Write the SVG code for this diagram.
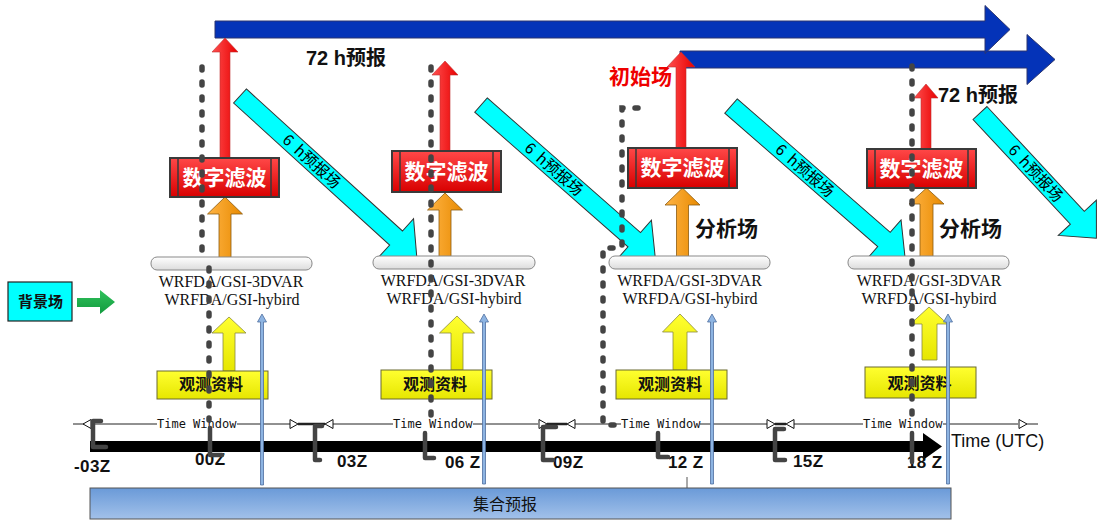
<svg xmlns="http://www.w3.org/2000/svg" width="1100" height="524" viewBox="0 0 1100 524">
<style>
.zh{font-family:"Noto Sans CJK SC","Liberation Sans",sans-serif}
.lat{font-family:"Liberation Sans","Noto Sans CJK SC",sans-serif}
.wrf{font-family:"Liberation Serif",serif;font-size:16px;fill:#111;text-anchor:middle}
.tw{font-family:"DejaVu Sans Mono","Liberation Mono",monospace;font-size:12px;fill:#111}
.zl{font-family:"Liberation Sans",sans-serif;font-size:17px;font-weight:bold;fill:#111;letter-spacing:0.4px}
.dash{fill:none;stroke:#444;stroke-width:5.5;stroke-linecap:round;stroke-dasharray:3 12}
.brk{fill:none;stroke:#444;stroke-width:4.5;stroke-linecap:round;stroke-linejoin:round}
.cyan{fill:#00FFFF;stroke:#333;stroke-width:1}
.red{fill:url(#redA);stroke:#c03030;stroke-width:0.6}
.org{fill:url(#orgG);stroke:#8a5a10;stroke-width:0.8}
.yel{fill:url(#yelG);stroke:#8a8a40;stroke-width:0.8}
.thin{fill:#8DB4E2;stroke:#4F6FA0;stroke-width:0.8}
.box{fill:url(#redG);stroke:#3a3a3a;stroke-width:2}
.bar{fill:url(#barG);stroke:#888;stroke-width:1}
.ybox{fill:url(#yelG);stroke:#6a6a30;stroke-width:1}
.dig{font-family:"Noto Sans CJK SC",sans-serif;font-size:21px;font-weight:bold;fill:#fff;text-anchor:middle}
.obs{font-family:"Noto Sans CJK SC",sans-serif;font-size:16px;font-weight:bold;fill:#111;text-anchor:middle}
.six{font-family:"Noto Sans CJK SC","Liberation Sans",sans-serif;font-size:15.5px;fill:#000;text-anchor:middle}
.tri{fill:#fff;stroke:#111;stroke-width:1}
</style>
<defs>
<linearGradient id="redG" x1="0" y1="0" x2="0" y2="1"><stop offset="0" stop-color="#FF4848"/><stop offset="1" stop-color="#D80000"/></linearGradient>
<linearGradient id="redA" x1="0" y1="0" x2="1" y2="0"><stop offset="0" stop-color="#FF5050"/><stop offset="1" stop-color="#E80000"/></linearGradient>
<linearGradient id="orgG" x1="0" y1="0" x2="1" y2="0"><stop offset="0" stop-color="#FFB445"/><stop offset="1" stop-color="#E88A00"/></linearGradient>
<linearGradient id="yelG" x1="0" y1="0" x2="0" y2="1"><stop offset="0" stop-color="#FFFF30"/><stop offset="1" stop-color="#E6E600"/></linearGradient>
<linearGradient id="barG" x1="0" y1="0" x2="0" y2="1"><stop offset="0" stop-color="#FFFFFF"/><stop offset="1" stop-color="#DCDCDC"/></linearGradient>
<linearGradient id="bluG" x1="0" y1="0" x2="0" y2="1"><stop offset="0" stop-color="#6A9AD8"/><stop offset="1" stop-color="#A2C1EA"/></linearGradient>
<linearGradient id="grnG" x1="0" y1="0" x2="0" y2="1"><stop offset="0" stop-color="#30C25C"/><stop offset="1" stop-color="#129A3E"/></linearGradient>
</defs>
<rect width="1100" height="524" fill="#fff"/>

<g id="ensemble">
<rect x="90" y="488" width="861" height="31" fill="url(#bluG)" stroke="#555" stroke-width="1"/>
<text class="zh" x="473" y="510" font-size="16" fill="#111">集合预报</text>
</g>

<g id="background">
<rect x="8" y="282" width="64" height="39" fill="#00FFFF" stroke="#222" stroke-width="1.2"/>
<text class="zh" x="40.5" y="307" font-size="15" font-weight="bold" text-anchor="middle" fill="#111">背景场</text>
<path d="M77,298 H100 V290 L115,302 L100,314 V307 H77 Z" fill="url(#grnG)"/>
</g>

<g id="forecast72">
<path d="M680,51 H1027 V34.5 L1055,59.5 L1027,84.5 V68 H680 Z" fill="#0433B8" stroke="#2a3570" stroke-width="1"/>
<path d="M215,21 H985 V5.5 L1010,29.5 L985,53.5 V38 H215 Z" fill="#0433B8" stroke="#2a3570" stroke-width="1"/>
<text class="lat" x="306" y="65" font-size="20" font-weight="bold" fill="#111">72 h预报</text>
<text class="lat" x="938" y="102" font-size="20" font-weight="bold" fill="#111">72 h预报</text>
</g>

<g id="labels">
<text class="zh" x="609" y="84" font-size="21" font-weight="bold" fill="#EE0000">初始场</text>
<text class="zh" x="695" y="236" font-size="21" font-weight="bold" fill="#111">分析场</text>
<text class="zh" x="939" y="236" font-size="21" font-weight="bold" fill="#111">分析场</text>
</g>

<g id="connectors">
<path class="red" d="M220,158 V52 H212 L225,38 L238,52 H230 V158 Z"/>
<path class="red" d="M440,151 V75 H432 L445,61 L458,75 H450 V151 Z"/>
<path class="red" d="M676,148 V67 H667 L681,52 L695,67 H686 V148 Z"/>
<path class="red" d="M921,149 V98 H914 L926,84 L938,98 H931 V149 Z"/>
<path class="org" d="M219,258 V214 H207.5 L225,197 L242.5,214 H231 V258 Z"/>
<path class="org" d="M439,257 V210 H427.5 L445,193 L462.5,210 H451 V257 Z"/>
<path class="org" d="M676.5,257 V205 H665 L682.5,188 L700,205 H688.5 V257 Z"/>
<path class="org" d="M920,257 V204 H909 L926.5,188 L944,204 H933 V257 Z"/>
<path class="yel" d="M223,371 V333 H212 L229,317 L246,333 H235 V371 Z"/>
<path class="yel" d="M451,370 V333 H439.5 L457,316 L474.5,333 H463 V370 Z"/>
<path class="yel" d="M673,370 V332 H662.5 L680,314 L697.5,332 H687 V370 Z"/>
<path class="yel" d="M922,360 V324 H910.5 L929,307 L947.5,324 H937 V360 Z"/>
<g transform="translate(240,96) rotate(42.3)"><path class="cyan" d="M0,-9.5 H211 V-26 L239,0 L211,26 V9.5 H0 Z"/><text class="six" x="97" y="5.5" xml:space="preserve">6  h预报场</text></g>
<g transform="translate(481,105) rotate(41.3)"><path class="cyan" d="M0,-9.5 H204 V-26 L232,0 L204,26 V9.5 H0 Z"/><text class="six" x="97" y="5.5" xml:space="preserve">6  h预报场</text></g>
<g transform="translate(731,106) rotate(41.1)"><path class="cyan" d="M0,-9.5 H203 V-26 L231,0 L203,26 V9.5 H0 Z"/><text class="six" x="98" y="5.5" xml:space="preserve">6  h预报场</text></g>
<g transform="translate(980,113) rotate(47.1)"><path class="cyan" d="M0,-9.5 H143 V-26 L171,0 L143,26 V9.5 H0 Z"/><text class="six" x="82" y="5.5" xml:space="preserve">6  h预报场</text></g>
</g>

<g id="filter1"><rect class="box" x="170" y="158" width="109" height="39"/><path d="M178,158 V197 M271,158 V197" stroke="#3a3a3a" stroke-width="1.5"/><text class="dig" x="224.5" y="185">数字滤波</text></g>
<g id="filter2"><rect class="box" x="392" y="151" width="109" height="41"/><path d="M400,151 V192 M493,151 V192" stroke="#3a3a3a" stroke-width="1.5"/><text class="dig" x="446.5" y="179">数字滤波</text></g>
<g id="filter3"><rect class="box" x="628" y="148" width="109" height="40"/><path d="M636,148 V188 M729,148 V188" stroke="#3a3a3a" stroke-width="1.5"/><text class="dig" x="682.5" y="175">数字滤波</text></g>
<g id="filter4"><rect class="box" x="867" y="149" width="109" height="39"/><path d="M875,149 V188 M968,149 V188" stroke="#3a3a3a" stroke-width="1.5"/><text class="dig" x="921.5" y="176">数字滤波</text></g>

<g id="assim1"><rect class="bar" x="151" y="257" width="161" height="13" rx="6"/><text class="wrf" x="231" y="287">WRFDA/GSI-3DVAR</text><text class="wrf" x="232" y="305">WRFDA/GSI-hybird</text></g>
<g id="assim2"><rect class="bar" x="373" y="256" width="162" height="13" rx="6"/><text class="wrf" x="453" y="286">WRFDA/GSI-3DVAR</text><text class="wrf" x="454" y="304">WRFDA/GSI-hybird</text></g>
<g id="assim3"><rect class="bar" x="609" y="256" width="161" height="13" rx="6"/><text class="wrf" x="689.5" y="286">WRFDA/GSI-3DVAR</text><text class="wrf" x="690" y="304">WRFDA/GSI-hybird</text></g>
<g id="assim4"><rect class="bar" x="848" y="256" width="161" height="13" rx="6"/><text class="wrf" x="929" y="286">WRFDA/GSI-3DVAR</text><text class="wrf" x="929" y="304">WRFDA/GSI-hybird</text></g>

<g id="obs1"><rect class="ybox" x="157" y="371" width="111" height="28"/><text class="obs" x="211" y="390">观测资料</text></g>
<g id="obs2"><rect class="ybox" x="381" y="370" width="111" height="29"/><text class="obs" x="435" y="390">观测资料</text></g>
<g id="obs3"><rect class="ybox" x="616" y="370" width="111" height="29"/><text class="obs" x="670" y="390">观测资料</text></g>
<g id="obs4"><rect class="ybox" x="865" y="367" width="111" height="31"/><text class="obs" x="919.5" y="389">观测资料</text></g>

<g id="timeline">
<path d="M90,441 H923 V433 L942,446.5 L923,460 V452 H90 Z" fill="#000"/>
<path d="M73,424 H157 M237,424 H290 M333,424 H393 M473,424 H538 M575,424 H621 M700,424 H767 M794,424 H863 M943,424 H1018 M1027,424 H1038" stroke="#222" stroke-width="1" fill="none"/>
<path d="M298,424 H325 M547,424 H567 M775,424 H786" stroke="#222" stroke-width="2.5" fill="none"/>
<path class="tri" d="M83,424 L91,419.5 V428.5 Z"/>
<path class="tri" d="M298,424 L290,419.5 V428.5 Z"/>
<path class="tri" d="M325,424 L333,419.5 V428.5 Z"/>
<path class="tri" d="M547,424 L539,419.5 V428.5 Z"/>
<path class="tri" d="M567,424 L575,419.5 V428.5 Z"/>
<path class="tri" d="M775,424 L767,419.5 V428.5 Z"/>
<path class="tri" d="M786,424 L794,419.5 V428.5 Z"/>
<path class="tri" d="M1027,424 L1019,419.5 V428.5 Z"/>
<text class="tw" x="157" y="428">Time Window</text>
<text class="tw" x="393" y="428">Time Window</text>
<text class="tw" x="621" y="428">Time Window</text>
<text class="tw" x="863" y="428">Time Window</text>
<text class="zl" x="74" y="472">-03Z</text>
<text class="zl" x="195" y="465">00Z</text>
<text class="zl" x="337" y="467">03Z</text>
<text class="zl" x="445" y="468">06 Z</text>
<text class="zl" x="553" y="468">09Z</text>
<text class="zl" x="668" y="468">12 Z</text>
<text class="zl" x="793" y="467">15Z</text>
<text class="zl" x="907" y="468">18 Z</text>
<text x="951" y="447" font-family="Liberation Sans,sans-serif" font-size="18" fill="#111">Time (UTC)</text>
<path d="M687,477 V488" stroke="#555" stroke-width="1"/>
<path class="brk" d="M101,421 H93 V447 H106"/>
<path class="brk" d="M210,428 V455 H222"/>
<path class="brk" d="M322,426 H315 V460 H320"/>
<path class="brk" d="M425,433 V458 H434"/>
<path class="brk" d="M556,427 H543 V460 H553"/>
<path class="brk" d="M658,433 V457 H668"/>
<path class="brk" d="M784,429 H775 V460 H785"/>
<path class="brk" d="M912,433 V462"/>
</g>

<g id="windows">
<path class="dash" d="M202,67 V262"/>
<path class="dash" d="M209,268 V420"/>
<path class="dash" d="M431,67 V415"/>
<path class="dash" d="M638,108 H622 V248 H603 V425 H615"/>
<path class="dash" d="M912,66 V418"/>
</g>

<g id="ensembleLinks">
<path class="thin" d="M260.5,485 V322 H257.5 L262,314 L266.5,322 H263.5 V485 Z"/>
<path class="thin" d="M482.5,484 V322 H479.5 L484,314 L488.5,322 H485.5 V484 Z"/>
<path class="thin" d="M710.5,484 V322 H707.5 L712,314 L716.5,322 H713.5 V484 Z"/>
<path class="thin" d="M946.5,484 V322 H943.5 L948,314 L952.5,322 H949.5 V484 Z"/>
</g>
</svg>
